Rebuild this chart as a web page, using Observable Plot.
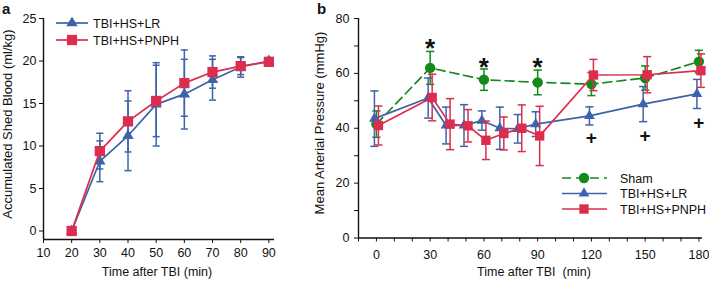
<!DOCTYPE html>
<html>
<head>
<meta charset="utf-8">
<script src="https://cdn.jsdelivr.net/npm/d3@7"></script>
<script src="https://cdn.jsdelivr.net/npm/@observablehq/plot@0.6"></script>
<style>
  html, body { margin: 0; padding: 0; background: #fff; }
  #wrap { display: flex; width: 709px; height: 281px; overflow: hidden; }
</style>
</head>
<body>
<div id="wrap"></div>
<script>
// ---------- Panel a: accumulated shed blood ----------
const timeA = [20, 30, 40, 50, 60, 70, 80, 90];
const shedLR = [0, 8.2, 11.2, 14.9, 16.1, 17.8, 19.3, 20.0];
const shedLRsd = [0.4, 2.4, 4.1, 4.9, 4.1, 2.4, 1.2, 0.4];
const shedPNPH = [0, 9.4, 12.9, 15.3, 17.4, 18.7, 19.4, 19.9];
const shedPNPHsd = [0.3, 2.1, 3.6, 4.2, 3.9, 1.9, 1.0, 0.2];
const xTicksA = [10, 20, 30, 40, 50, 60, 70, 80, 90];
const yTicksA = [0, 5, 10, 15, 20, 25];
const xDomainA = [10, 92];
const yDomainA = [-1, 25];

// ---------- Panel b: mean arterial pressure ----------
const timeSham = [0, 30, 60, 90, 120, 150, 180];
const mapSham = [41.5, 62.0, 57.7, 56.7, 56.1, 58.3, 64.3];
const mapShamSd = [4.8, 6.0, 3.9, 4.5, 4.2, 4.4, 4.1];
const timeB = [0, 30, 40, 50, 60, 70, 80, 90, 120, 150, 180];
const mapLR = [43.5, 51.0, 41.0, 41.0, 42.8, 40.0, 39.8, 41.5, 44.5, 48.8, 52.5];
const mapLRsd = [10.1, 7.3, 6.7, 7.6, 3.5, 7.7, 5.2, 4.5, 3.3, 6.4, 5.3];
const mapPNPH = [41.0, 51.2, 41.5, 40.9, 35.6, 38.1, 40.0, 37.2, 59.4, 59.5, 61.0];
const mapPNPHsd = [7.1, 8.5, 9.3, 5.9, 7.0, 6.0, 8.5, 10.8, 5.7, 6.6, 6.1];
const starTime = [30, 60, 90];
const starValue = [71.6, 64.6, 64.8];
const plusTime = [120, 150, 180];
const plusValue = [36.7, 37.6, 42.2];
const xTicksB = d3.range(-10, 181, 10);
const xLabelsB = [0, 30, 60, 90, 120, 150, 180];
const yTicksB = d3.range(0, 81, 10);
const yLabelsB = [0, 20, 40, 60, 80];
const xDomainB = [-10, 182];
const yDomainB = [0, 80];

const labelsSeries = ["Sham", "TBI+HS+LR", "TBI+HS+PNPH"];

const FONT = "'Liberation Sans', Arial, Helvetica, sans-serif";
const BLUE = "#3d63aa", RED = "#dc2d4f", GREEN = "#14891c", INK = "#111";
const LW = 1.7;

const rows = (ts, ms, ss) => ts.map((t, i) => ({t, m: ms[i], s: ss[i]}));
const capSymbol = {draw(ctx, size) { const w = Math.sqrt(size) / 2; ctx.moveTo(-w, 0); ctx.lineTo(w, 0); }};

function errorMarks(data, color, capR, dx = 0) {
  return [
    Plot.ruleX(data, {x: "t", y1: d => d.m - d.s, y2: d => d.m + d.s, stroke: color, strokeWidth: 1.5, dx}),
    Plot.dot(data, {x: "t", y: d => d.m + d.s, symbol: capSymbol, r: capR, stroke: color, fill: "none", strokeWidth: 1.5, dx}),
    Plot.dot(data, {x: "t", y: d => d.m - d.s, symbol: capSymbol, r: capR, stroke: color, fill: "none", strokeWidth: 1.5, dx})
  ];
}
function lineMarks(data, color, symbol, r, dx = 0, dash = null) {
  return [
    Plot.line(data, {x: "t", y: "m", stroke: color, strokeWidth: LW, strokeDasharray: dash, dx}),
    Plot.dot(data, {x: "t", y: "m", symbol, r, fill: color, stroke: "none", dx})
  ];
}

function addText(svg, txt, x, y, opts = {}) {
  const t = d3.select(svg).append("text")
    .attr("x", x).attr("y", y)
    .attr("font-family", FONT)
    .attr("font-size", opts.size || 12)
    .attr("font-weight", opts.weight || "normal")
    .attr("fill", INK)
    .attr("text-anchor", opts.anchor || "start")
    .text(txt);
  if (opts.rotate) t.attr("transform", `rotate(-90 ${x} ${y})`);
  return t;
}
function addLegendRow(svg, x1, x2, xm, y, color, type, size, label, tx, dash = null) {
  const g = d3.select(svg).append("g");
  g.append("line").attr("x1", x1).attr("x2", x2).attr("y1", y).attr("y2", y)
    .attr("stroke", color).attr("stroke-width", LW).attr("stroke-dasharray", dash);
  g.append("path").attr("d", d3.symbol().type(type).size(size)())
    .attr("transform", `translate(${xm},${y})`).attr("fill", color);
  addText(svg, label, tx, y + 4.5, {size: 12.5});
}

// ---------- build panel a ----------
const dLR = rows(timeA, shedLR, shedLRsd);
const dPN = rows(timeA, shedPNPH, shedPNPHsd);
const chartA = Plot.plot({
  width: 310, height: 281,
  marginLeft: 43, marginRight: 36, marginTop: 18, marginBottom: 42,
  style: {fontFamily: FONT, fontSize: "12.5px", color: INK, background: "white", overflow: "visible"},
  x: {domain: xDomainA},
  y: {domain: yDomainA},
  marks: [
    Plot.axisX({ticks: xTicksA, tickSize: 4, tickPadding: 5, label: null, stroke: INK}),
    Plot.axisY({ticks: yTicksA, tickSize: 4, tickPadding: 3, label: null, stroke: INK}),
    Plot.ruleX([xDomainA[0]], {stroke: INK, strokeWidth: 1.4}),
    Plot.ruleY([yDomainA[0]], {stroke: INK, strokeWidth: 1.4}),
    ...errorMarks(dLR, BLUE, 4),
    ...errorMarks(dPN, BLUE, 4),
    ...lineMarks(dLR, BLUE, "triangle", 4.2),
    ...lineMarks(dPN, RED, "square", 5.8)
  ]
});
addText(chartA, "a", 2, 14, {size: 15, weight: "bold"});
addText(chartA, "Accumulated Shed Blood (ml/kg)", 12, 124, {size: 13, anchor: "middle", rotate: true});
addText(chartA, "Time after TBI (min)", 157, 276, {size: 12.5, anchor: "middle"});
addLegendRow(chartA, 56, 88, 72, 23, BLUE, d3.symbolTriangle, Math.PI * 4.2 * 4.2, labelsSeries[1], 93);
addLegendRow(chartA, 56, 88, 72, 40, RED, d3.symbolSquare, Math.PI * 5.8 * 5.8, labelsSeries[2], 93);

// ---------- build panel b ----------
const dSh = rows(timeSham, mapSham, mapShamSd);
const dBL = rows(timeB, mapLR, mapLRsd);
const dBP = rows(timeB, mapPNPH, mapPNPHsd);
const chartB = Plot.plot({
  width: 399, height: 281,
  marginLeft: 48, marginRight: 7, marginTop: 18, marginBottom: 43.5,
  style: {fontFamily: FONT, fontSize: "12.5px", color: INK, background: "white", overflow: "visible"},
  x: {domain: xDomainB},
  y: {domain: yDomainB},
  marks: [
    Plot.axisX({ticks: xTicksB, tickFormat: d => xLabelsB.includes(d) ? d : "", tickSize: 4, tickPadding: 8, label: null, stroke: INK}),
    Plot.axisY({ticks: yTicksB, tickFormat: d => yLabelsB.includes(d) ? d : "", tickSize: 4, tickPadding: 5, label: null, stroke: INK}),
    Plot.ruleX([xDomainB[0]], {stroke: INK, strokeWidth: 1.4}),
    Plot.ruleY([yDomainB[0]], {stroke: INK, strokeWidth: 1.4}),
    ...errorMarks(dSh, GREEN, 4.6),
    ...lineMarks(dSh, GREEN, "circle", 5.2, 0, "9 5"),
    ...errorMarks(dBL, BLUE, 4.6, -2),
    ...lineMarks(dBL, BLUE, "triangle", 4, -2),
    ...errorMarks(dBP, RED, 4.6, 2),
    ...lineMarks(dBP, RED, "square", 5.3, 2),
    Plot.text(starTime, {x: d => d, y: (d, i) => starValue[i], text: () => "*", fontSize: 26, fontWeight: "bold", fill: INK, lineAnchor: "middle", dy: 7}),
    Plot.text(plusTime, {x: d => d, y: (d, i) => plusValue[i], text: () => "+", fontSize: 19, fontWeight: "bold", fill: INK, lineAnchor: "middle", dy: 1})
  ]
});
addText(chartB, "b", 7, 14, {size: 15, weight: "bold"});
addText(chartB, "Mean Arterial Pressure (mmHg)", 14, 123, {size: 13, anchor: "middle", rotate: true});
addText(chartB, "Time after TBI  (min)", 224, 276, {size: 12.5, anchor: "middle"}).attr("xml:space", "preserve").style("white-space", "pre");
addLegendRow(chartB, 252, 297, 274, 178, GREEN, d3.symbolCircle, Math.PI * 5.2 * 5.2, labelsSeries[0], 310, "9 5");
addLegendRow(chartB, 252, 297, 274, 193.5, BLUE, d3.symbolTriangle, Math.PI * 4 * 4, labelsSeries[1], 310);
addLegendRow(chartB, 252, 297, 274, 209, RED, d3.symbolSquare, Math.PI * 5.3 * 5.3, labelsSeries[2], 310);

const wrap = document.getElementById("wrap");
wrap.appendChild(chartA);
wrap.appendChild(chartB);
</script>
</body>
</html>
